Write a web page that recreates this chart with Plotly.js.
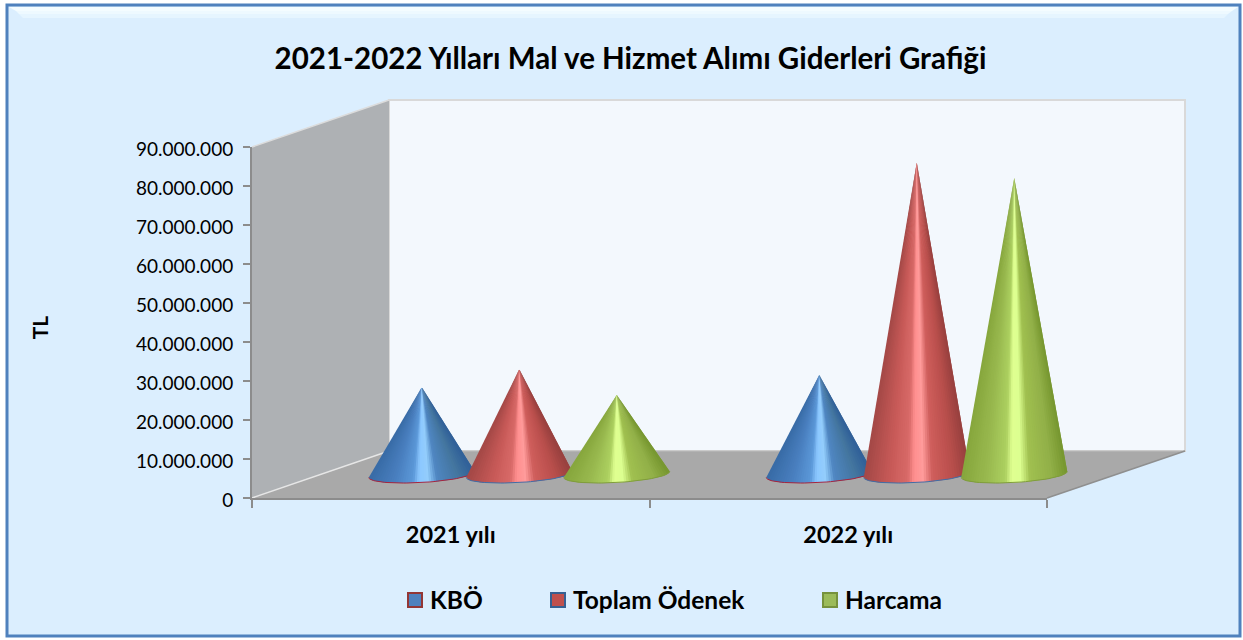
<!DOCTYPE html>
<html><head><meta charset="utf-8">
<script src="https://cdn.plot.ly/plotly-3.0.1.min.js"></script>
<style>html,body{margin:0;padding:0;background:#fff}</style></head>
<body><div id="chart" style="width:1243px;height:640px"></div>
<script>
const categories = ["2021 yılı", "2022 yılı"];
const seriesNames = ["KBÖ", "Toplam Ödenek", "Harcama"];
const kbo = [22400000, 25500000];
const toplamOdenek = [27000000, 80000000];
const harcama = [20400000, 76000000];
const yTickVals = [0,10000000,20000000,30000000,40000000,50000000,60000000,70000000,80000000,90000000];
const yTickText = ["0","10.000.000","20.000.000","30.000.000","40.000.000","50.000.000","60.000.000","70.000.000","80.000.000","90.000.000"];

const W=1243,H=640,L=252,R=1047,T=147,B=498,BACK=1185;
const px=x=>x/W, py=y=>1-y/H;
const poly=(pts)=>'M'+pts.map(p=>px(p[0]).toFixed(5)+','+py(p[1]).toFixed(5)).join(' L')+' Z';
function sh(pts,fill,line,lw){return {type:'path',xref:'paper',yref:'paper',layer:'below',path:poly(pts),fillcolor:fill,line:{color:line||fill,width:lw===undefined?0:lw}};}
function ln(a,b,c,w){return {type:'line',xref:'paper',yref:'paper',layer:'below',x0:px(a[0]),y0:py(a[1]),x1:px(b[0]),y1:py(b[1]),line:{color:c,width:w}};}

const shapes=[
  sh([[7,5],[1240,5],[1240,636],[7,636]],'#dbeefe','#4f81bd',3),
  sh([[9,7],[1238,7],[1232,11],[16,11]],'#f4fcff'),
  sh([[16,11],[1232,11],[1228,14],[19,14]],'#eef9ff'),
  sh([[19,14],[1228,14],[1224,18],[23,18]],'#e6f5ff'),
  sh([[389,100],[1185,100],[1185,451],[389,451]],'#f3f8fd','#d9d9d9',2),
  sh([[252,147],[389,100],[389,451],[252,498]],'#aeb1b4'),
  sh([[252,498],[389,451],[1185,451],[1047,498]],'#a9a9a9'),
  ln([252,147],[389,100],'#dcdcdc',1.5),
  ln([252,498],[389,451],'#e6e6e6',1.5),
  ln([389,451],[1185,451],'#bdbdbd',1),
  ln([1047,498],[1185,451],'#8f8f8f',1.5)
];

const unitX=(R-L)/2, unitY=(B-T)/90000000;
const depthX=68.5/unitX, depthY=23.5/unitY;
const offset=97.5/unitX, halfW=53/unitX, minor=8/unitY, tilt=3/unitY;
const palettes=[
 {edge:'#a8243c',stops:[[-1,'#386ba6'],[-.5,'#4a80c0'],[-.17,'#5b98d8'],[-.05,'#8bc7ff'],[.12,'#93cdfc'],[.3,'#4f86c2'],[.7,'#44769f'],[1,'#2f5f98']]},
 {edge:'#3f6ea8',stops:[[-1,'#a34846'],[-.5,'#c85a58'],[-.17,'#d86a68'],[-.05,'#ff8f8f'],[.12,'#ff9b9b'],[.3,'#cf5e5c'],[.7,'#b84e4b'],[1,'#96403e']]},
 {edge:'#7f9c3c',stops:[[-1,'#86a63c'],[-.5,'#9aba50'],[-.17,'#acd060'],[-.05,'#dfff90'],[.12,'#dcff90'],[.3,'#a0c050'],[.7,'#92b048'],[1,'#76962f']]}
];
function hex(c){return [1,3,5].map(i=>parseInt(c.slice(i,i+2),16));}
function shade(stops,s){
  for(let i=1;i<stops.length;i++){ if(s<=stops[i][0]){
    const a=stops[i-1],b=stops[i],f=(s-a[0])/(b[0]-a[0]);
    const A=hex(a[1]),B_=hex(b[1]);
    return 'rgb('+A.map((v,k)=>Math.round(v+(B_[k]-v)*f)).join(',')+')';
  }}
  return stops[stops.length-1][1];
}
const traces=[];
const allSeries=[kbo,toplamOdenek,harcama];
const N=44;
categories.forEach((cat,ci)=>{
  allSeries.forEach((vals,si)=>{
    const cx=ci+depthX+(si-1)*offset, base=depthY, top=vals[ci]+depthY, pal=palettes[si];
    const edge=s=>base-minor*Math.sqrt(Math.max(0,1-s*s))+tilt*s;
    const arcX=[],arcY=[];
    for(let i=0;i<N;i++){
      // painter's order: each strip runs under the next one, so no seams show
      const s1=-1+2*i/N, s2=-1+2*(i+1)/N, s3=Math.min(1,-1+2*(i+2)/N), c=shade(pal.stops,(s1+s2)/2);
      traces.push({type:'scatter',mode:'none',xaxis:'x2',x:[cx,cx+s1*halfW,cx+s2*halfW,cx+s3*halfW,cx],y:[top,edge(s1),edge(s2),edge(s3),top],
        fill:'toself',fillcolor:c,showlegend:false,hoverinfo:'skip'});
    }
    for(let i=0;i<=N;i++){const t=Math.PI*i/N,s=-Math.cos(t);arcX.push(cx+s*halfW);arcY.push(base-minor*Math.sin(t)+tilt*s);}
    traces.push({type:'scatter',mode:'lines',xaxis:'x2',x:arcX,y:arcY,line:{color:pal.edge,width:1},showlegend:false,hoverinfo:'skip'});
  });
});
const legendFill=['#4f81bd','#c0504d','#9bbb59'], legendLine=['#943634','#366092','#76923c'], legendIds=['legend','legend2','legend3'];
seriesNames.forEach((n,i)=>traces.push({type:'scatter',mode:'markers',x:[null],y:[null],name:n,legend:legendIds[i],
  marker:{symbol:'square',size:14,color:legendFill[i],line:{color:legendLine[i],width:2}}}));

const FONT='Lato, Carlito, sans-serif';
const legendCfg=x=>({x:px(x),y:py(600),xanchor:'left',yanchor:'middle',bgcolor:'rgba(0,0,0,0)',borderwidth:0,orientation:'h',font:{family:FONT,size:24.5,color:'#000',weight:700}});
const layout={
  width:W,height:H,margin:{l:0,r:0,t:0,b:0},paper_bgcolor:'#fff',plot_bgcolor:'rgba(0,0,0,0)',
  title:{text:'<b>2021-2022 Yılları Mal ve Hizmet Alımı Giderleri Grafiği</b>',font:{family:FONT,size:29.5,color:'#000'},x:630.5/W,xref:'paper',xanchor:'center',y:py(59),yref:'paper',yanchor:'middle'},
  xaxis:{domain:[px(L),px(R)],range:[-.5,1.5],tickvals:[0,1],ticktext:categories.map(c=>'<b>'+c+'</b>'),ticks:'',ticklabelstandoff:15,
    tickfont:{family:FONT,size:23.5,color:'#000'},showgrid:false,zeroline:false,showline:true,linecolor:'#8c8c8c',linewidth:2,
    minor:{tickvals:[-.5,.5,1.5],ticks:'outside',ticklen:8,tickwidth:2,tickcolor:'#8c8c8c',showgrid:false},fixedrange:true},
  xaxis2:{domain:[px(L),px(BACK)],range:[-.5,-.5+(BACK-L)/unitX],visible:false,anchor:'y',fixedrange:true},
  yaxis:{domain:[py(B),py(T)],range:[0,90000000],tickvals:yTickVals,ticktext:yTickText,ticks:'outside',ticklen:7,tickwidth:2,tickcolor:'#8c8c8c',
    ticklabelstandoff:6,ticklabelshift:2,tickfont:{family:FONT,size:19,color:'#000'},showgrid:false,zeroline:false,showline:true,linecolor:'#8c8c8c',linewidth:2,fixedrange:true,
    title:{text:'<b>TL</b>',font:{family:FONT,size:21,color:'#000'},standoff:82}},
  legend:legendCfg(390),legend2:legendCfg(533),legend3:legendCfg(805),
  shapes:shapes,showlegend:true
};
Plotly.newPlot('chart',traces,layout,{displayModeBar:false,staticPlot:true}).then(()=>{
  document.querySelectorAll('.legendsymbols').forEach(e=>e.setAttribute('transform','translate(5,0)'));
  const t=document.querySelector('.g-ytitle text');
  if(t) t.setAttribute('transform','translate(0,5) '+(t.getAttribute('transform')||''));
});
</script></body></html>
